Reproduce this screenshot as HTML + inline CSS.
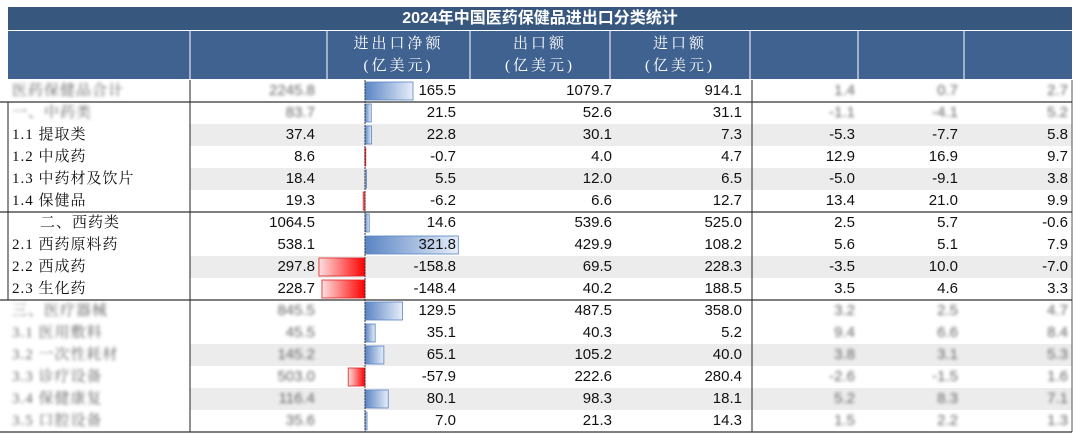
<!DOCTYPE html>
<html><head><meta charset="utf-8">
<style>
body{margin:0;width:1080px;height:441px;background:#fff;overflow:hidden;position:relative;font-family:"Liberation Sans","Noto Sans CJK SC",sans-serif;}
.a{position:absolute;}
.t{position:absolute;font-size:15px;color:#111;line-height:22px;white-space:nowrap;z-index:3;}
.cj{font-family:"Liberation Serif","Noto Serif CJK SC",serif;letter-spacing:1px;}
.blur{filter:blur(1.5px);color:#666;}
.hd{position:absolute;color:#fff;font-family:"Liberation Serif","Noto Serif CJK SC",serif;font-size:15px;text-align:center;line-height:22px;letter-spacing:3px;z-index:3;}
#stripes{position:absolute;left:0;top:0;z-index:0;}
#lines{z-index:2;}
</style></head>
<body>
<div id="stripes"></div>
<div class="a" style="left:8px;top:7px;width:1064px;height:23px;background:#37577f;"></div>
<div class="a" style="left:8px;top:7px;width:1064px;height:23px;color:#fff;font-weight:bold;font-size:16px;text-align:center;line-height:23px;z-index:3;font-family:'Liberation Sans','Noto Sans CJK SC',sans-serif;">2024年中国医药保健品进出口分类统计</div>
<div class="a" style="left:8px;top:31px;width:1064px;height:48px;background:#3f6290;"></div>
<div class="hd" style="left:327px;top:33px;width:143px;">进出口净额<br>(亿美元)</div>
<div class="hd" style="left:470px;top:33px;width:140px;">出口额<br>(亿美元)</div>
<div class="hd" style="left:610px;top:33px;width:140px;">进口额<br>(亿美元)</div>
<svg class="a" style="left:0;top:0" width="1080" height="441" id="lines"></svg>
<div id="rows"></div>
<script>
const labels=["医药保健品合计","一、中药类","1.1 提取类","1.2 中成药","1.3 中药材及饮片","1.4 保健品","二、西药类","2.1 西药原料药","2.2 西成药","2.3 生化药","三、医疗器械","3.1 医用敷料","3.2 一次性耗材","3.3 诊疗设备","3.4 保健康复","3.5 口腔设备"];
const totals=["2245.8","83.7","37.4","8.6","18.4","19.3","1064.5","538.1","297.8","228.7","845.5","45.5","145.2","503.0","116.4","35.6"];
const netVals=[165.5,21.5,22.8,-0.7,5.5,-6.2,14.6,321.8,-158.8,-148.4,129.5,35.1,65.1,-57.9,80.1,7.0];
const exportVals=[1079.7,52.6,30.1,4.0,12.0,6.6,539.6,429.9,69.5,40.2,487.5,40.3,105.2,222.6,98.3,21.3];
const importVals=[914.1,31.1,7.3,4.7,6.5,12.7,525.0,108.2,228.3,188.5,358.0,5.2,40.0,280.4,18.1,14.3];
const g1=["1.4","-1.1","-5.3","12.9","-5.0","13.4","2.5","5.6","-3.5","3.5","3.2","9.4","3.8","-2.6","5.2","1.5"];
const g2=["0.7","-4.1","-7.7","16.9","-9.1","21.0","5.7","5.1","10.0","4.6","2.5","6.6","3.1","-1.5","8.3","2.2"];
const g3=["2.7","5.2","5.8","9.7","3.8","9.9","-0.6","7.9","-7.0","3.3","4.7","8.4","5.3","1.6","7.1","1.3"];
const blurRows=[0,1,10,11,12,13,14,15];
const stripe=[2,4,8,12,14];
const x0=365, k=0.29, top0=80, rh=22;
const R=document.getElementById('rows');
const S=document.getElementById('stripes');
const svg=document.getElementById('lines');
const NS='http://www.w3.org/2000/svg';
function ln(x1,y1,x2,y2,c,w,name,dash){const l=document.createElementNS(NS,'line');
l.setAttribute('x1',x1);l.setAttribute('y1',y1);l.setAttribute('x2',x2);l.setAttribute('y2',y2);
l.setAttribute('stroke',c);l.setAttribute('stroke-width',w);if(dash)l.setAttribute('stroke-dasharray',dash);


svg.appendChild(l);}
svg.innerHTML='<defs><linearGradient id="gb" x1="0" x2="1"><stop offset="0" stop-color="#5a84c4"/><stop offset="1" stop-color="#e6eef9"/></linearGradient><linearGradient id="gr" x1="1" x2="0"><stop offset="0" stop-color="#f00"/><stop offset="1" stop-color="#fde0e0"/></linearGradient></defs>';
stripe.forEach(i=>{const d=document.createElement('div');d.className='a';


d.style.cssText=`left:190px;top:${top0+i*rh}px;width:882px;height:${rh}px;background:#ececec;`;S.appendChild(d);});
function txt(s,x,y,w,align,cls,name){const d=document.createElement('div');d.className='t '+(cls||'');


d.style.left=x+'px';d.style.top=y+'px';d.style.width=w+'px';d.style.textAlign=align;d.textContent=s;R.appendChild(d);}
labels.forEach((lab,i)=>{
 const y=top0+i*rh, b=blurRows.includes(i);
 txt(lab,i==6?40:12,y,175,'left','cj'+(b?' blur':''),'row-label');
 txt(totals[i],190,y,125,'right',b?'blur':'','total-value');
 const v=netVals[i];const bw=Math.abs(v)*k;
 const r=document.createElementNS(NS,'rect');
 r.setAttribute('x',v>=0?x0:x0-bw);r.setAttribute('y',y+2);r.setAttribute('width',Math.max(bw,1));r.setAttribute('height',rh-4);
 r.setAttribute('fill',v>=0?'url(#gb)':'url(#gr)');r.setAttribute('stroke',v>=0?'#5a84c4':'#e02020');r.setAttribute('stroke-width','0.8');
 
 
 svg.appendChild(r);
 txt(v.toFixed(1),330,y,126,'right','','net-value');
 txt(exportVals[i].toFixed(1),470,y,142,'right','','export-value');
 txt(importVals[i].toFixed(1),610,y,132,'right','','import-value');
 txt(g1[i],752,y,103,'right',b?'blur':'','growth-1');
 txt(g2[i],858,y,100,'right',b?'blur':'','growth-2');
 txt(g3[i],964,y,104,'right',b?'blur':'','growth-3');
});
ln(x0,80,x0,432,'#333',1,'zero-axis','2,1');
ln(190,80,190,432,'#222',1,'col-divider');
ln(752,80,752,432,'#222',1,'col-divider');
ln(1072,80,1072,432,'#555',1,'right-border');
ln(8,102,8,300,'#222',1,'left-border');
[102,212,300,432].forEach(y=>ln(0,y,1072,y,'#333',1.2,'row-rule'));
ln(190,31,190,79,'#fff',1,'header-divider');
ln(327,31,327,79,'#fff',1,'header-divider');
ln(470,31,470,79,'#fff',1,'header-divider');
ln(610,31,610,79,'#fff',1,'header-divider');
ln(750,31,750,79,'#fff',1,'header-divider');
ln(858,31,858,79,'#fff',1,'header-divider');
ln(964,31,964,79,'#fff',1,'header-divider');
</script>
</body></html>
